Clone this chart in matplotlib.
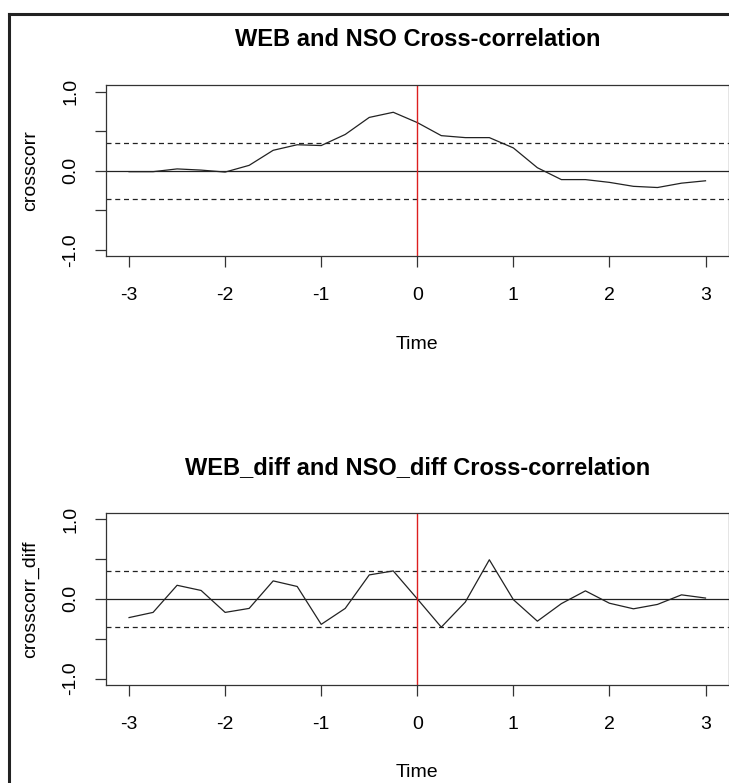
"""Cross-correlation plots of WEB and NSO series (R style)."""

import matplotlib
matplotlib.use("Agg")
from matplotlib import pyplot as plt
from matplotlib.lines import Line2D

plt.rcParams["font.family"] = ["Liberation Sans", "DejaVu Sans"]

lags = [-3.0, -2.75, -2.5, -2.25, -2.0, -1.75, -1.5, -1.25, -1.0, -0.75, -0.5, -0.25,
        0.0, 0.25, 0.5, 0.75, 1.0, 1.25, 1.5, 1.75, 2.0, 2.25, 2.5, 2.75, 3.0]
crosscorr = [-0.01, -0.01, 0.025, 0.01, -0.015, 0.07, 0.26, 0.33, 0.32, 0.46, 0.675, 0.74,
             0.61, 0.445, 0.42, 0.42, 0.29, 0.04, -0.11, -0.11, -0.145, -0.195, -0.21, -0.155, -0.125]
crosscorr_diff = [-0.235, -0.17, 0.17, 0.105, -0.17, -0.12, 0.225, 0.155, -0.32, -0.12, 0.30, 0.35,
                  0.0, -0.355, -0.04, 0.49, -0.01, -0.28, -0.06, 0.10, -0.055, -0.125, -0.07, 0.05, 0.01]
conf = 0.35
xticks = [-3, -2, -1, 0, 1, 2, 3]
yticks = [-1.0, -0.5, 0.0, 0.5, 1.0]
ytick_labels = ["-1.0", "", "0.0", "", "1.0"]

panels = [
    ("WEB and NSO Cross-correlation", "crosscorr", crosscorr, [0.1454, 0.6725, 0.854, 0.2185]),
    ("WEB_diff and NSO_diff Cross-correlation", "crosscorr_diff", crosscorr_diff, [0.1454, 0.1252, 0.854, 0.2200]),
]

fig = plt.figure(figsize=(7.29, 7.83), dpi=100)

# outer frame (left and top edges only)
fig.add_artist(Line2D([0.0125, 0.0125], [0.0, 0.982], color="#222222", lw=2.2,
                      transform=fig.transFigure))
fig.add_artist(Line2D([0.0125, 1.0], [0.982, 0.982], color="#222222", lw=2.2,
                      transform=fig.transFigure))

for title, ylab, vals, rect in panels:
    ax = fig.add_axes(rect)
    ax.plot(lags, vals, color="#222222", lw=0.9)
    ax.axhline(0, color="#222222", lw=0.9)
    ax.axhline(conf, color="#222222", lw=0.9, ls=(0, (4, 3)))
    ax.axhline(-conf, color="#222222", lw=0.9, ls=(0, (4, 3)))
    ax.axvline(0, color="#dd1f1f", lw=1.0)
    ax.set_xlim(-3.24, 3.24)
    ax.set_ylim(-1.08, 1.08)
    ax.set_xticks(xticks)
    ax.set_xticklabels([str(t) for t in xticks])
    ax.set_yticks(yticks)
    ax.set_yticklabels(ytick_labels, rotation=90, va="center")
    ax.tick_params(length=8, width=0.9, color="#333333", labelsize=14, pad=11)
    ax.tick_params(axis="x", pad=14)
    for sp in ax.spines.values():
        sp.set_linewidth(0.9)
        sp.set_color("#333333")
    ax.set_title(title, fontsize=17, fontweight="bold", pad=28)
    ax.set_xlabel("Time", fontsize=14, labelpad=23)
    ax.set_ylabel(ylab, fontsize=14, labelpad=17)

fig.savefig("out.png", dpi=100)
plt.close()
